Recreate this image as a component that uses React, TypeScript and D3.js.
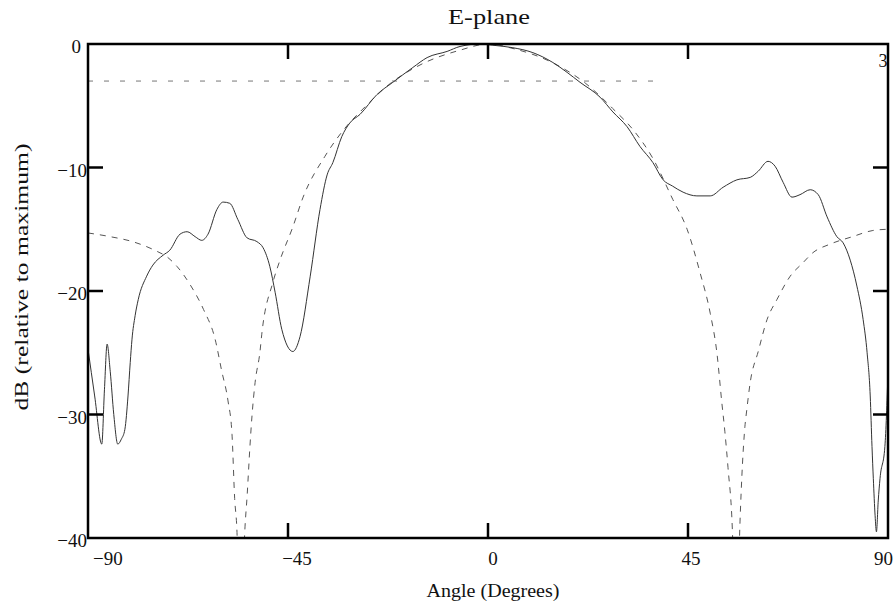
import React from "react";
import * as d3 from "d3";

const measuredAngle = [-90, -88.5, -86.9, -86.3, -85.7, -85, -84.2, -83.3, -82.5, -81.7, -81, -80.5, -80.1, -79.4, -78.7, -76.8, -75.4, -73.1, -71.6, -69.3, -67.7, -65.9, -64.4, -63, -61, -59.6, -58.1, -56.3, -54.2, -52, -50.6, -49.1, -47.9, -46.4, -43.9, -42.3, -40, -37.8, -36.2, -34.9, -32.9, -31.1, -28.8, -25, -21.4, -16.9, -13.7, -9.2, -6.3, -1.8, 1.1, 5.6, 10.1, 14.6, 17.8, 20.7, 25.2, 28.1, 31.3, 34.2, 37.1, 39.4, 41.5, 43.9, 47, 50, 52.9, 56, 59, 60.8, 63, 64.6, 66.4, 68.4, 70.2, 72.5, 74.3, 76.3, 78.5, 79.9, 81.5, 83, 84.4, 85.3, 86, 86.4, 86.7, 87.1, 87.4, 87.8, 88.2, 89.3, 90];
const measuredDb = [-24.7, -28.5, -32.4, -28, -24.3, -26.5, -30, -32.4, -32, -31.2, -28.5, -25.8, -23.9, -22, -20.7, -18.8, -17.9, -17.1, -16.7, -15.4, -15.2, -15.6, -15.9, -15.4, -13.4, -12.8, -12.9, -14.2, -15.7, -16, -16.5, -18, -20.1, -23.1, -24.9, -23.7, -18.8, -13.4, -10.6, -9.6, -7.5, -6.4, -5.7, -4.1, -3.1, -1.9, -1.1, -0.6, -0.2, 0, -0.1, -0.3, -0.7, -1.5, -2.3, -3.1, -4.3, -5.5, -6.7, -8.3, -9.6, -11.0, -11.5, -12, -12.3, -12.3, -11.6, -11, -10.8, -10.3, -9.5, -9.9, -11.2, -12.4, -12.2, -11.8, -12.2, -14, -15.6, -16.1, -17.5, -19.6, -22.3, -25, -28.5, -32.6, -35.2, -38.2, -39.5, -37, -35.2, -32.6, -26.6];

const theoryAngle = [-90, -85, -80, -75, -72, -70, -67, -64, -61.4, -59.9, -58.5, -57.6, -57, -56.5, -55.7, -54.7, -54.2, -53.6, -53.1, -52.4, -51.3, -50.9, -48.4, -46.8, -43.9, -41.6, -36.7, -32.6, -27.7, -22, -15.3, -6.3, 0, 6, 15, 22, 28, 33, 37, 41.6, 44.8, 47.7, 50, 51.5, 52.6, 53.3, 54, 55, 55.8, 56.7, 57.8, 58.2, 59, 60.8, 62.8, 65, 68, 70.9, 73.1, 77, 82, 86.6, 90];
const theoryDb = [-15.3, -15.6, -16.0, -16.7, -17.3, -18.0, -19.5, -21.5, -23.9, -26.5, -28.9, -31.6, -36.8, -39.3, -50, -39.3, -36.6, -32.8, -30.1, -27.4, -24.9, -23.5, -19.3, -17.5, -14.8, -12.4, -9.1, -7, -5.1, -3.2, -1.7, -0.5, 0, -0.4, -1.6, -3.2, -5.2, -7.1, -9.2, -12.6, -15, -18.5, -21.8, -25, -29, -31.4, -34.3, -39.5, -50, -38.7, -31, -29.7, -27.4, -24.9, -22.3, -20.7, -18.8, -17.7, -16.9, -16.2, -15.6, -15.1, -15];

const halfPowerAngle = [-90, 38];
const halfPowerDb = [-3, -3];

const xTicks = [-90, -45, 0, 45, 90];
const xTickLabels = ["\u221290", "\u221245", "0", "45", "90"];
const yTicks = [0, -10, -20, -30, -40];
const yTickLabels = ["0", "\u221210", "\u221220", "\u221230", "\u221240"];

const title = "E-plane";
const xTitle = "Angle (Degrees)";
const yTitle = "dB (relative to maximum)";
const traceNumber = "3";

export default function App() {
  const W = 896, H = 605;
  const left = 88, right = 888, top = 44, bottom = 538;
  const x = d3.scaleLinear().domain([-90, 90]).range([left, right]);
  const y = d3.scaleLinear().domain([-40, 0]).range([bottom, top]);
  const font = "'Liberation Serif', 'Times New Roman', serif";

  const line = d3
    .line<[number, number]>()
    .x((d) => x(d[0]))
    .y((d) => y(d[1]))
    .curve(d3.curveMonotoneX);
  const straight = d3
    .line<[number, number]>()
    .x((d) => x(d[0]))
    .y((d) => y(d[1]));

  const measured = measuredAngle.map((a, i) => [a, measuredDb[i]] as [number, number]);
  const theory = theoryAngle.map((a, i) => [a, theoryDb[i]] as [number, number]);
  const half = halfPowerAngle.map((a, i) => [a, halfPowerDb[i]] as [number, number]);

  const xLabelOffset = [5, 9, 5, 3, 5];
  const xLabelAnchor = ["start", "middle", "middle", "middle", "end"];
  const tickLen = 15;

  return (
    <svg width={W} height={H} style={{ position: "absolute", left: 0, top: 0, background: "#fff" }}>
      <defs>
        <clipPath id="plotClip">
          <rect x={left} y={top} width={right - left} height={bottom - top} />
        </clipPath>
      </defs>
      <rect x={0} y={0} width={W} height={H} fill="#fff" />
      <text x={489} y={24} textAnchor="middle" fontFamily={font} fontSize={22} textLength={82} lengthAdjust="spacingAndGlyphs" fill="#111">
        {title}
      </text>

      <g clipPath="url(#plotClip)">
        <path d={straight(half) || ""} fill="none" stroke="#777" strokeWidth={1} strokeDasharray="5 11" />
        <path d={line(theory) || ""} fill="none" stroke="#555" strokeWidth={1} strokeDasharray="6 6" />
        <path d={line(measured) || ""} fill="none" stroke="#333" strokeWidth={1} />
      </g>

      {/* ticks */}
      {xTicks.slice(1, -1).map((t) => (
        <g key={"xt" + t}>
          <line x1={x(t)} x2={x(t)} y1={bottom} y2={bottom - tickLen} stroke="#000" strokeWidth={2.5} />
          <line x1={x(t)} x2={x(t)} y1={top} y2={top + tickLen} stroke="#000" strokeWidth={2.5} />
        </g>
      ))}
      {yTicks.slice(1, -1).map((t) => (
        <g key={"yt" + t}>
          <line x1={left} x2={left + tickLen} y1={y(t)} y2={y(t)} stroke="#000" strokeWidth={2.5} />
          <line x1={right} x2={right - tickLen} y1={y(t)} y2={y(t)} stroke="#000" strokeWidth={2.5} />
        </g>
      ))}
      <rect x={left} y={top} width={right - left} height={bottom - top} fill="none" stroke="#000" strokeWidth={2.5} />

      {xTicks.map((t, i) => (
        <text
          key={"xl" + t}
          x={x(t) + xLabelOffset[i]}
          y={565}
          textAnchor={xLabelAnchor[i] as any}
          fontFamily={font}
          fontSize={19}
          fill="#111"
        >
          {xTickLabels[i]}
        </text>
      ))}
      {yTicks.map((t, i) => (
        <text
          key={"yl" + t}
          x={t === 0 ? 81 : 87}
          y={y(t) + 9}
          textAnchor="end"
          fontFamily={font}
          fontSize={19}
          fill="#111"
        >
          {yTickLabels[i]}
        </text>
      ))}

      <text x={883} y={67} textAnchor="middle" fontFamily={font} fontSize={18} fill="#111">
        {traceNumber}
      </text>

      <text x={493} y={597} textAnchor="middle" fontFamily={font} fontSize={18} textLength={133} lengthAdjust="spacingAndGlyphs" fill="#111">
        {xTitle}
      </text>
      <text
        transform={`translate(28, 277) rotate(-90)`}
        textAnchor="middle"
        fontFamily={font}
        fontSize={19}
        textLength={267}
        lengthAdjust="spacingAndGlyphs"
        fill="#111"
      >
        {yTitle}
      </text>
    </svg>
  );
}
